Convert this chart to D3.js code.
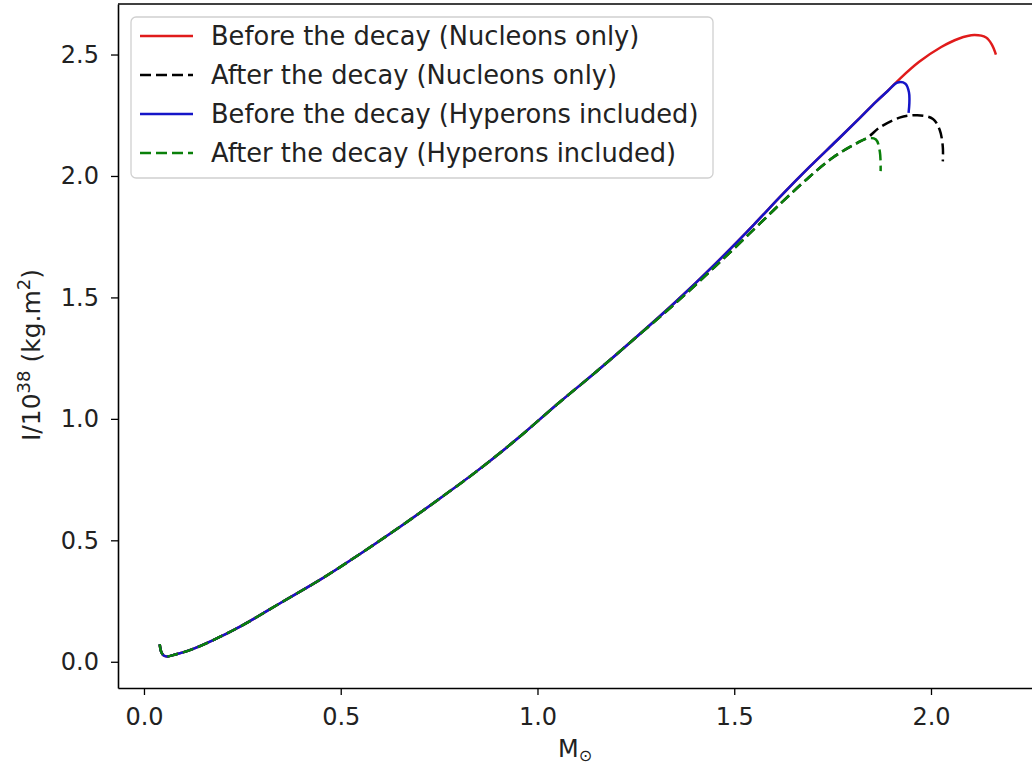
<!DOCTYPE html>
<html>
<head>
<meta charset="utf-8">
<script src="https://cdn.jsdelivr.net/npm/d3@7"></script>
<style>
  body { margin: 0; background: #fff; }
  text { font-family: "DejaVu Sans", sans-serif; fill: #222; }
</style>
</head>
<body>
<div id="chart"></div>
<script>
// mass (M_sun) and moment of inertia (1e38 kg m^2)
const lowM = [0.040, 0.044, 0.050, 0.058, 0.08, 0.12, 0.18, 0.25, 0.35, 0.45, 0.55, 0.65, 0.75, 0.85, 0.95, 1.05, 1.15, 1.25];
const lowI = [0.072, 0.040, 0.026, 0.022, 0.030, 0.050, 0.092, 0.150, 0.245, 0.340, 0.445, 0.555, 0.670, 0.790, 0.920, 1.060, 1.195, 1.335];

const blueM = [1.35, 1.45, 1.55, 1.62, 1.69, 1.76, 1.82, 1.86, 1.89, 1.915, 1.935, 1.944, 1.945, 1.943];
const blueI = [1.480, 1.635, 1.800, 1.920, 2.035, 2.145, 2.240, 2.305, 2.350, 2.385, 2.380, 2.345, 2.300, 2.260];

const redM = [1.924, 1.97, 2.025, 2.07, 2.11, 2.14, 2.155, 2.165];
const redI = [2.405, 2.470, 2.530, 2.565, 2.580, 2.570, 2.540, 2.500];

const greenM = [1.35, 1.45, 1.55, 1.62, 1.69, 1.75, 1.80, 1.84, 1.860, 1.870, 1.872];
const greenI = [1.475, 1.625, 1.780, 1.890, 1.995, 2.075, 2.125, 2.155, 2.150, 2.100, 2.020];

const blackM = [1.35, 1.45, 1.55, 1.62, 1.69, 1.75, 1.80, 1.84, 1.87, 1.92, 1.965, 2.005, 2.022, 2.030, 2.030];
const blackI = [1.475, 1.625, 1.780, 1.890, 1.995, 2.075, 2.125, 2.160, 2.200, 2.240, 2.250, 2.235, 2.190, 2.120, 2.060];

const legendLabels = [
  "Before the decay (Nucleons only)",
  "After the decay (Nucleons only)",
  "Before the decay (Hyperons included)",
  "After the decay (Hyperons included)"
];
const xTicks = [0.0, 0.5, 1.0, 1.5, 2.0];
const yTicks = [0.0, 0.5, 1.0, 1.5, 2.0, 2.5];

const zip = (m, i) => m.map((v, k) => ({ m: v, i: i[k] }));
const low = zip(lowM, lowI);
const series = [
  { pts: low.concat(zip(blueM.slice(0, 9), blueI.slice(0, 9)), zip(redM, redI)), color: "#e01b1b", dash: null },
  { pts: low.concat(zip(blackM, blackI)), color: "#000000", dash: "11,5" },
  { pts: low.concat(zip(blueM, blueI)), color: "#1515c8", dash: null },
  { pts: low.concat(zip(greenM, greenI)), color: "#0a800a", dash: "11,5" }
];

const width = 1032, height = 772;
const margin = { top: 4, right: -8, bottom: 84, left: 118 };

const x = d3.scaleLinear()
  .domain([-0.066, 2.277])
  .range([margin.left, width - margin.right]);
const y = d3.scaleLinear()
  .domain([-0.108, 2.708])
  .range([height - margin.bottom, margin.top]);

const svg = d3.select("#chart").append("svg")
  .attr("width", width)
  .attr("height", height);

svg.append("defs").append("clipPath").attr("id", "clip")
  .append("rect")
  .attr("x", margin.left).attr("y", margin.top)
  .attr("width", width - margin.left - margin.right)
  .attr("height", height - margin.top - margin.bottom);

const line = d3.line().x(d => x(d.m)).y(d => y(d.i)).curve(d3.curveCatmullRom.alpha(0.5));

svg.append("g").attr("clip-path", "url(#clip)")
  .selectAll("path")
  .data(series)
  .join("path")
  .attr("d", d => line(d.pts))
  .attr("fill", "none")
  .attr("stroke", d => d.color)
  .attr("stroke-width", 2.5)
  .attr("stroke-dasharray", d => d.dash);

// axes
const xAxis = svg.append("g")
  .attr("transform", `translate(0,${height - margin.bottom})`)
  .call(d3.axisBottom(x).tickValues(xTicks).tickFormat(d3.format(".1f")).tickSize(7).tickPadding(13).tickSizeOuter(0));
const yAxis = svg.append("g")
  .attr("transform", `translate(${margin.left},0)`)
  .call(d3.axisLeft(y).tickValues(yTicks).tickFormat(d3.format(".1f")).tickSize(7).tickPadding(12).tickSizeOuter(0));
[xAxis, yAxis].forEach(g => {
  g.selectAll("text").attr("font-size", 24).style("font-family", "DejaVu Sans").attr("fill", "#222");
  g.selectAll("line").attr("stroke", "#000").attr("stroke-width", 1.3);
  g.select(".domain").attr("stroke", "#000").attr("stroke-width", 1.6);
});
// top spine
svg.append("line")
  .attr("x1", margin.left).attr("x2", width)
  .attr("y1", margin.top).attr("y2", margin.top)
  .attr("stroke", "#000").attr("stroke-width", 1.6);

// axis labels
const xl = svg.append("text")
  .attr("x", 558).attr("y", 757)
  .attr("font-size", 24);
xl.append("tspan").text("M");
xl.append("tspan").attr("font-size", 16).attr("dy", 4).text("\u2299");

const yl = svg.append("text")
  .attr("transform", `translate(40,${355}) rotate(-90)`)
  .attr("text-anchor", "middle")
  .attr("font-size", 25);
yl.append("tspan").text("I/10");
yl.append("tspan").attr("font-size", 18).attr("dy", -10).text("38");
yl.append("tspan").attr("dy", 10).text(" (kg.m");
yl.append("tspan").attr("font-size", 18).attr("dy", -10).text("2");
yl.append("tspan").attr("dy", 10).text(")");

// legend
const lg = svg.append("g").attr("transform", "translate(131,17)");
lg.append("rect")
  .attr("width", 582).attr("height", 161)
  .attr("rx", 5)
  .attr("fill", "#fff").attr("fill-opacity", 0.85)
  .attr("stroke", "#d0d0d0").attr("stroke-width", 1.3);
const rows = lg.selectAll("g.row")
  .data(series)
  .join("g")
  .attr("class", "row")
  .attr("transform", (d, k) => `translate(0,${19 + k * 39})`);
rows.append("line")
  .attr("x1", 9).attr("x2", 62)
  .attr("stroke", d => d.color)
  .attr("stroke-width", 2.5)
  .attr("stroke-dasharray", d => d.dash);
rows.append("text")
  .attr("x", 80).attr("dy", "0.35em")
  .attr("font-size", 25.7)
  .text((d, k) => legendLabels[k]);
</script>
</body>
</html>
